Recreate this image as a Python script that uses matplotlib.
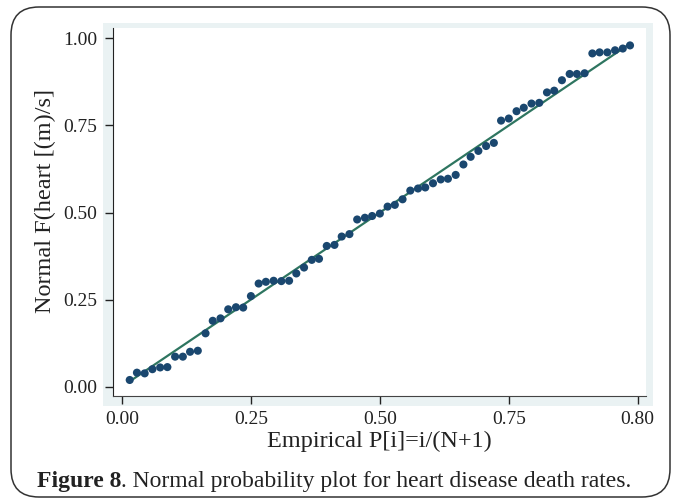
import matplotlib
matplotlib.use("Agg")
import matplotlib.pyplot as plt
from matplotlib.patches import FancyBboxPatch, Rectangle

# data (empirical P[i] and normal F values)
emp_p = [0.015, 0.029, 0.044, 0.059, 0.074, 0.088, 0.103, 0.118, 0.132, 0.147,
         0.162, 0.176, 0.191, 0.206, 0.221, 0.235, 0.250, 0.265, 0.279, 0.294,
         0.309, 0.324, 0.338, 0.353, 0.368, 0.382, 0.397, 0.412, 0.426, 0.441,
         0.456, 0.471, 0.485, 0.500, 0.515, 0.529, 0.544, 0.559, 0.574, 0.588,
         0.603, 0.618, 0.632, 0.647, 0.662, 0.676, 0.691, 0.706, 0.721, 0.735,
         0.750, 0.765, 0.779, 0.794, 0.809, 0.824, 0.838, 0.853, 0.868, 0.882,
         0.897, 0.912, 0.926, 0.941, 0.956, 0.971, 0.985]
norm_f = [0.019, 0.040, 0.038, 0.050, 0.055, 0.056, 0.086, 0.086, 0.100, 0.103,
          0.153, 0.189, 0.196, 0.222, 0.228, 0.227, 0.260, 0.296, 0.301, 0.304,
          0.303, 0.304, 0.325, 0.342, 0.364, 0.367, 0.404, 0.407, 0.431, 0.438,
          0.480, 0.485, 0.490, 0.497, 0.517, 0.522, 0.538, 0.563, 0.569, 0.572,
          0.584, 0.595, 0.597, 0.608, 0.638, 0.660, 0.677, 0.691, 0.700, 0.764,
          0.770, 0.791, 0.801, 0.813, 0.815, 0.845, 0.850, 0.880, 0.898, 0.898,
          0.900, 0.957, 0.960, 0.960, 0.966, 0.971, 0.980]

x_ticks = [0.0, 0.25, 0.5, 0.75, 1.0]
x_ticklabels = ["0.00", "0.25", "0.50", "0.75", "0.80"]
y_ticks = [0.0, 0.25, 0.5, 0.75, 1.0]
y_ticklabels = ["0.00", "0.25", "0.50", "0.75", "1.00"]

plt.rcParams['font.family'] = ['Liberation Serif', 'DejaVu Serif']

W, H = 680, 498
fig = plt.figure(figsize=(W / 100, H / 100), dpi=100)

# light graph region behind the plot
fig.add_artist(Rectangle((103 / W, 1 - 406 / H), 550 / W, 383 / H,
                         transform=fig.transFigure, facecolor="#eaf2f3",
                         edgecolor="none", zorder=0))

ax = fig.add_axes([112.7 / W, 1 - 396 / H, (646 - 112.7) / W, (396 - 28) / H])
ax.set_facecolor("white")
ax.set_zorder(1)

# reference line y = x, then the points
ax.plot([emp_p[0], emp_p[-1]], [emp_p[0], emp_p[-1]], color="#2e7560", lw=1.6, zorder=2)
ax.scatter(emp_p, norm_f, s=34, color="#1a476f", edgecolors="none", zorder=3)

ax.set_xlim(-0.018, 1.016)
ax.set_ylim(-0.027, 1.03)
ax.set_xticks(x_ticks)
ax.set_xticklabels(x_ticklabels)
ax.set_yticks(y_ticks)
ax.set_yticklabels(y_ticklabels)
ax.tick_params(direction="out", length=6, width=1, colors="#222222",
               labelsize=14)
ax.tick_params(axis="y", pad=5)
ax.tick_params(axis="x", pad=5)

for side in ["top", "right"]:
    ax.spines[side].set_visible(False)
ax.spines["left"].set_color("#222222")
ax.spines["bottom"].set_color("#444444")

ax.set_xlabel("Empirical P[i]=i/(N+1)", fontsize=17.5, color="#222222", labelpad=2)
ax.set_ylabel("Normal F(heart [(m)/s]", fontsize=17.5, color="#222222")
ax.yaxis.set_label_coords(-0.106, 0.53)

# caption with bold figure number
fig.canvas.draw()
renderer = fig.canvas.get_renderer()
t1 = fig.text(37 / W, 1 - 481 / H, "Figure 8", fontsize=17, fontweight="bold",
              color="#222222", va="center", ha="left")
bb = t1.get_window_extent(renderer=renderer)
fig.text(bb.x1 / W, 1 - 481 / H, ". Normal probability plot for heart disease death rates.",
         fontsize=17, color="#222222", va="center", ha="left")

# rounded frame around the whole figure
frame = FancyBboxPatch((11, 1), 659, 490, boxstyle="round,pad=0,rounding_size=28",
                       transform=None, facecolor="none", edgecolor="#333333",
                       lw=1.1, zorder=5)
fig.add_artist(frame)

fig.savefig("out.png", dpi=100)
